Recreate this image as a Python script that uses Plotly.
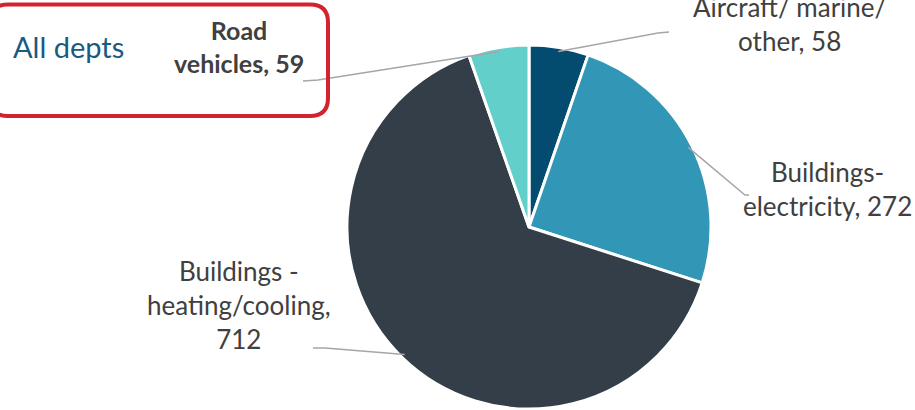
import math
import plotly.graph_objects as go

W, H = 915, 410

categories = ["Aircraft/ marine/ other", "Buildings- electricity", "Buildings - heating/cooling", "Road vehicles"]
values = [58, 272, 712, 59]
label_texts = ["Aircraft/ marine/<br>other, 58", "Buildings-<br>electricity, 272",
               "Buildings -<br>heating/cooling,<br>712", "<b>Road<br>vehicles, 59</b>"]
colors = ["#034b6f", "#3296b6", "#343e49", "#63cfca"]

# pie geometry (pixels)
CX, CY, R = 529, 227, 182
# label positions (pixels) and leader line elbows
label_pos = [(789, 24), (827, 189), (239, 305), (239, 47)]
label_sizes = [26, 26, 26, 25]
elbows = [[(658, 33), (669, 32)], [(745, 195), (749, 195)], [(325, 348), (313, 348)], [(318, 80), (303, 81)]]


def px(x):
    return x / W


def py(y):
    return 1 - y / H


fig = go.Figure(go.Pie(
    labels=categories, values=values, sort=False, direction="clockwise", rotation=0,
    marker=dict(colors=colors, line=dict(color="white", width=3)),
    textinfo="none", hoverinfo="label+value", showlegend=False,
    domain=dict(x=[px(CX - R), px(CX + R)], y=[py(CY + R), py(CY - R)]),
))

shapes = []
annotations = []
total = sum(values)
cum = 0
for i, v in enumerate(values):
    mid = (cum + v / 2) / total * 2 * math.pi
    cum += v
    sx = CX + (R - 4) * math.sin(mid)
    sy = CY - (R - 4) * math.cos(mid)
    pts = [(sx, sy)] + elbows[i]
    path = "M " + " L ".join(f"{px(x):.5f},{py(y):.5f}" for x, y in pts)
    shapes.append(dict(type="path", xref="paper", yref="paper", path=path,
                       line=dict(color="#a6a6a6", width=1.5)))
    lx, ly = label_pos[i]
    annotations.append(dict(x=px(lx), y=py(ly), xref="paper", yref="paper", text=label_texts[i],
                            showarrow=False, xanchor="center", yanchor="middle", align="center",
                            font=dict(family="Lato", size=label_sizes[i], color="#404040")))

# rounded red box
x0, x1, y0, y1, r = -10, 328, 4.5, 116, 18
pts = [("M", x0 + r, y0), ("L", x1 - r, y0), ("Q", x1, y0, x1, y0 + r), ("L", x1, y1 - r),
       ("Q", x1, y1, x1 - r, y1), ("L", x0 + r, y1), ("Q", x0, y1, x0, y1 - r), ("L", x0, y0 + r),
       ("Q", x0, y0, x0 + r, y0)]
segs = []
for p in pts:
    cmd = p[0]
    coords = p[1:]
    cs = " ".join(f"{px(coords[j]):.5f},{py(coords[j+1]):.5f}" for j in range(0, len(coords), 2))
    segs.append(f"{cmd} {cs}")
shapes.append(dict(type="path", xref="paper", yref="paper", path=" ".join(segs) + " Z",
                   line=dict(color="#d2232f", width=4)))

annotations.append(dict(x=px(11), y=py(47), xref="paper", yref="paper", text="All depts",
                        showarrow=False, xanchor="left", yanchor="middle",
                        font=dict(family="Lato", size=29, color="#195a82")))

fig.update_layout(width=W, height=H, margin=dict(l=0, r=0, t=0, b=0),
                  paper_bgcolor="white", plot_bgcolor="white",
                  shapes=shapes, annotations=annotations)
fig.write_html("out.html", config={"displayModeBar": False},
               post_script="document.body.style.margin='0';document.body.style.overflow='hidden';")
